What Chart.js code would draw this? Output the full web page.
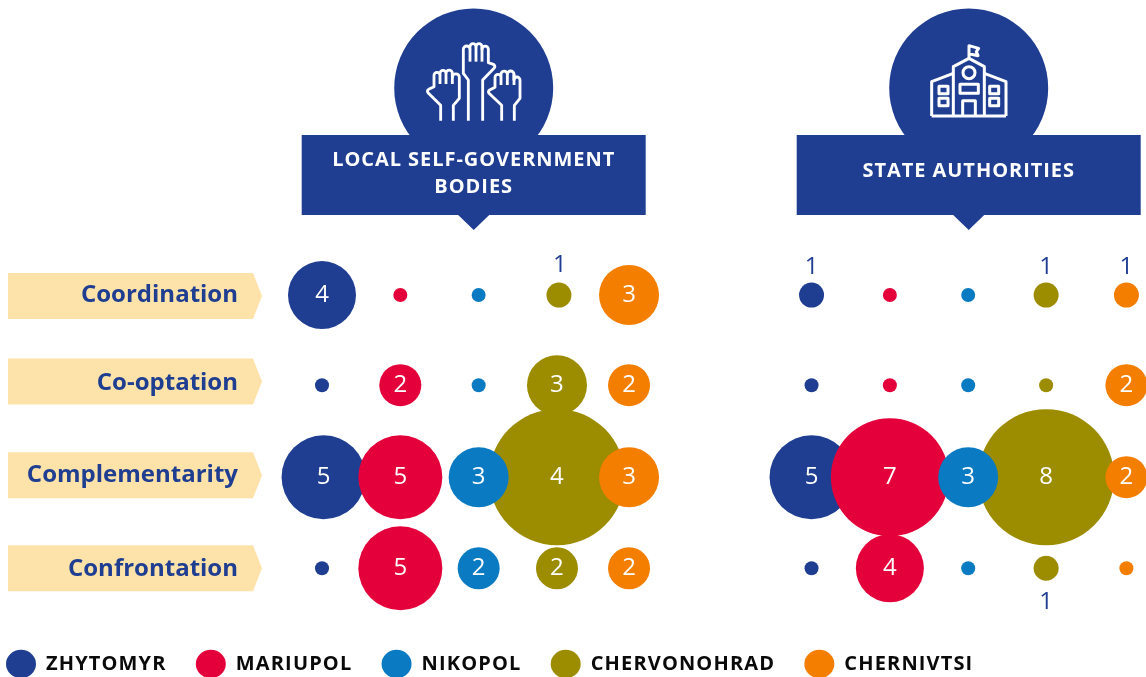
<!DOCTYPE html>
<html><head><meta charset="utf-8">
<style>html,body{margin:0;padding:0;background:#fff}canvas{display:block}</style>
<script src="https://cdn.jsdelivr.net/npm/chart.js@4"></script>
</head><body><canvas id="c" width="1146" height="677"></canvas>
<script>
const cities = ['ZHYTOMYR','MARIUPOL','NIKOPOL','CHERVONOHRAD','CHERNIVTSI'];
const cityColors = ['#1F3E92','#E4003A','#0A7BC2','#9C8C00','#F37E00'];
const drawOrder = [3,2,1,4,0];
const rowLabels = ['Coordination','Co-optation','Complementarity','Confrontation'];
const headings = [['LOCAL SELF-GOVERNMENT','BODIES'],['STATE AUTHORITIES']];
// counts by row (Coordination, Co-optation, Complementarity, Confrontation)
const zhytomyrLocal = [4,0,5,0];
const mariupolLocal = [0,2,5,5];
const nikopolLocal = [0,0,3,2];
const chervonohradLocal = [1,3,8,2];
const chernivtsiLocal = [3,2,3,2];
const zhytomyrState = [1,0,5,0];
const mariupolState = [0,0,7,4];
const nikopolState = [0,0,3,0];
const chervonohradState = [1,0,8,1];
const chernivtsiState = [1,2,2,0];
// the reference prints 4 on the largest local bubble
const chervonohradLocalPrinted = [1,3,4,2];
const localSeries = [zhytomyrLocal,mariupolLocal,nikopolLocal,chervonohradLocal,chernivtsiLocal];
const stateSeries = [zhytomyrState,mariupolState,nikopolState,chervonohradState,chernivtsiState];
const localPrinted = [zhytomyrLocal,mariupolLocal,nikopolLocal,chervonohradLocalPrinted,chernivtsiLocal];
// bubble radius for each count
const radiusForCount = [7,12.5,21,30,34,42,50,59,68];
// axis positions
const localSlots = [0,1,2,3,3.92];
const stateSlots = [6.25,7.25,8.25,9.245,10.27];
const rowSlots = [0,0.99,2,3];
const labelSlots = [0,0.97,1.98,3.01];
const ribbonSlots = [0.01,0.95,1.98,3];
const localRowShift = [[0,0,0.02,0],[0,0,0,0],[0,0,0,0],[0.025,0,0,0],[0,0,0,0]];

const datasets = cities.map((c,i)=>{
  const pts=[];
  rowSlots.forEach((y,r)=>{
    pts.push({x:localSlots[i]+localRowShift[i][r],y,r:radiusForCount[localSeries[i][r]],printed:localPrinted[i][r],panel:0});
  });
  rowSlots.forEach((y,r)=>{
    pts.push({x:stateSlots[i],y,r:radiusForCount[stateSeries[i][r]],printed:stateSeries[i][r],panel:1});
  });
  return {label:c,data:pts,backgroundColor:cityColors[i],borderWidth:0,hoverBorderWidth:0,order:drawOrder[i],clip:false};
});

const BLUE='#1F3E92', RIBBON='#FDE3A9';
function poly(ctx,pts,close){ctx.beginPath();pts.forEach((p,i)=>i?ctx.lineTo(p[0],p[1]):ctx.moveTo(p[0],p[1]));if(close)ctx.closePath();ctx.stroke();}
function header(ctx,cx,lines,textYs){
  ctx.fillStyle=BLUE;
  ctx.beginPath();ctx.arc(cx,88,79.5,0,Math.PI*2);ctx.fill();
  ctx.fillRect(cx-172,135,344,80);
  ctx.beginPath();ctx.moveTo(cx-15.5,215);ctx.lineTo(cx,230);ctx.lineTo(cx+15.5,215);ctx.fill();
  ctx.fillStyle='#fff';ctx.font='bold 20px "Open Sans"';ctx.textAlign='center';ctx.textBaseline='middle';
  ctx.letterSpacing='0.95px';
  lines.forEach((t,i)=>ctx.fillText(t,cx,textYs[i]));
  ctx.letterSpacing='0px';
}
function hands(ctx){
  ctx.save();ctx.translate(420,30);ctx.scale(1/3,1/3);ctx.strokeStyle='#fff';ctx.lineWidth=8.5;ctx.lineJoin='round';ctx.lineCap='butt';
  const fingers=(list)=>list.forEach(f=>ctx.arc(f[0],f[1],f[2],Math.PI,0));
  const gaps=(list)=>list.forEach(g=>poly(ctx,[[g[0],g[1]],[g[0],g[2]]]));
  // middle
  ctx.beginPath();ctx.moveTo(145,272);ctx.lineTo(145,150);ctx.lineTo(130,130);ctx.lineTo(130,58);
  fingers([[140,58,10],[159,50,9],[177,50,9],[195.5,58,9.5]]);
  ctx.lineTo(205,98);ctx.lineTo(222,104);ctx.quadraticCurveTo(227,110,222,115);ctx.lineTo(188,150);ctx.lineTo(188,272);ctx.stroke();
  gaps([[150,58,95],[168,50,95],[186,50,95]]);
  // left
  ctx.beginPath();ctx.moveTo(62,272);ctx.lineTo(62,226);ctx.lineTo(24,188);ctx.quadraticCurveTo(20,182,26,178);ctx.lineTo(42,170);ctx.lineTo(42,136);
  fingers([[51,136,9],[69,130,9],[87.5,130,9.5],[107.5,142,10.5]]);
  ctx.lineTo(118,205);ctx.lineTo(100,226);ctx.lineTo(100,272);ctx.stroke();
  gaps([[60,136,162],[78,130,162],[97,130,162]]);
  // right
  ctx.beginPath();ctx.moveTo(245,272);ctx.lineTo(245,226);ctx.lineTo(207,190);ctx.quadraticCurveTo(203,184,209,180);ctx.lineTo(225,172);ctx.lineTo(225,142);
  fingers([[234,142,9],[252.5,133,9.5],[272,133,10],[291,150,9]]);
  ctx.lineTo(300,205);ctx.lineTo(283,226);ctx.lineTo(283,272);ctx.stroke();
  gaps([[243,142,165],[262,133,165],[282,133,165]]);
  ctx.restore();
}
function building(ctx){
  ctx.save();ctx.translate(920,35);ctx.scale(1/3,1/3);ctx.strokeStyle='#fff';ctx.lineWidth=9;ctx.lineJoin='round';
  poly(ctx,[[35,243],[35,140],[100,115]]);
  poly(ctx,[[258,243],[258,140],[193,115]]);
  poly(ctx,[[35,243],[258,243]]);
  poly(ctx,[[100,243],[100,95],[147,70],[193,95],[193,243]]);
  poly(ctx,[[147,70],[147,32],[176,40],[169,50],[174,62],[147,56]]);
  ctx.beginPath();ctx.arc(147,113,18,0,Math.PI*2);ctx.stroke();
  poly(ctx,[[120,148],[175,148],[175,175],[120,175]],true);
  poly(ctx,[[128,243],[128,197],[166,197],[166,243]]);
  [[57,154],[57,190],[209,154],[209,190]].forEach(p=>poly(ctx,[[p[0],p[1]],[p[0]+27,p[1]],[p[0]+27,p[1]+22],[p[0],p[1]+22]],true));
  ctx.restore();
}
const decor={id:'decor',
  beforeLayout(chart){
    const l=chart.legend;
    if(l&&!l._spaced){
      l._spaced=true;const f=l.fit.bind(l),d=l.draw.bind(l),ctx=chart.ctx;
      l.fit=function(){ctx.letterSpacing='1.15px';f();ctx.letterSpacing='0px';};
      l.draw=function(){ctx.letterSpacing='1.15px';d();ctx.letterSpacing='0px';};
    }
  },
  afterLayout(chart){ // legend row starts at the left margin and sits on the bottom edge
    const l=chart.legend,p=l.options.labels.padding;l.left=6-p;l.top=664-p-10;l.bottom=chart.height;
  },
  beforeDraw(chart){
    const ctx=chart.ctx,y=chart.scales.y;
    ctx.save();
    ribbonSlots.forEach(s=>{
      const c=y.getPixelForValue(s);
      ctx.fillStyle=RIBBON;ctx.beginPath();ctx.moveTo(8,c-23);ctx.lineTo(253,c-23);ctx.lineTo(262,c);ctx.lineTo(253,c+23);ctx.lineTo(8,c+23);ctx.closePath();ctx.fill();
    });
    header(ctx,473.7,headings[0],[160,187]);
    header(ctx,968.7,headings[1],[171]);
    hands(ctx);building(ctx);
    ctx.restore();
  },
  afterDatasetsDraw(chart){
    const ctx=chart.ctx;ctx.save();
    ctx.font='24px "Open Sans"';ctx.textAlign='center';ctx.textBaseline='middle';
    chart.data.datasets.forEach((ds,di)=>{
      chart.getDatasetMeta(di).data.forEach((el,i)=>{
        const d=ds.data[i],v=d.printed;if(!v)return;
        if(v===1){
          ctx.fillStyle=BLUE;
          const below=d.y===3;
          ctx.fillText(String(v),el.x+(d.panel?0:1),el.y+(below?34:(d.panel?-28:-30)));
        }else{ctx.fillStyle='#fff';ctx.fillText(String(v),el.x,el.y);}
      });
    });
    ctx.restore();
  }
};
new Chart(document.getElementById('c'),{
  type:'bubble',
  data:{datasets},
  plugins:[decor],
  options:{
    responsive:false,animation:false,devicePixelRatio:1,
    events:[],
    layout:{autoPadding:false,padding:{top:249.5,left:0,right:0,bottom:4}},
    plugins:{
      tooltip:{enabled:false},title:{display:false},
      legend:{display:true,position:'bottom',align:'start',
        labels:{usePointStyle:true,pointStyle:'circle',pointStyleWidth:30,boxHeight:20,padding:29.2,color:'#0a0a0a',
          sort:(a,b)=>a.datasetIndex-b.datasetIndex,
          font:{family:'"Open Sans"',weight:'bold',size:20}}}
    },
    scales:{
      x:{type:'linear',display:false,min:-0.766,max:10.52},
      y:{type:'linear',reverse:true,min:-0.5,max:3.5,position:'left',
        afterBuildTicks:s=>{s.ticks=labelSlots.map(v=>({value:v}));},
        afterFit:s=>{s.width=262;},
        grid:{display:false,drawTicks:false},border:{display:false},
        ticks:{autoSkip:false,crossAlign:'near',padding:24,color:BLUE,
          font:{family:'"Open Sans"',weight:'bold',size:24},
          callback:(v,i)=>rowLabels[i]}}
    }
  }
});
</script></body></html>
